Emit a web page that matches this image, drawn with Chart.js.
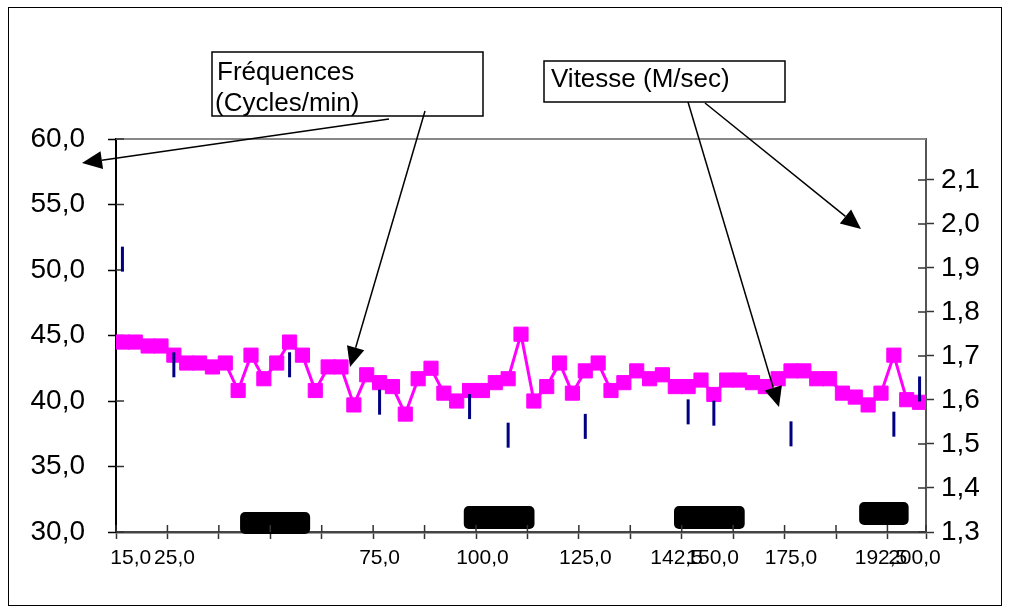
<!DOCTYPE html>
<html>
<head>
<meta charset="utf-8">
<script src="https://cdn.jsdelivr.net/npm/chart.js@4"></script>
<style>
  html, body { margin: 0; padding: 0; background: #fff; }
  #wrap { width: 1009px; height: 613px; position: relative; }
</style>
</head>
<body>
<div id="wrap"><canvas id="chart"></canvas></div>
<script>
// === Données ===
// fréquences (cycles/min), une valeur par catégorie
const freq = [44.5, 44.5, 44.2, 44.2, 43.5, 42.9, 42.9, 42.6, 42.9, 40.8,
  43.5, 41.7, 42.9, 44.5, 43.5, 40.8, 42.6, 42.6, 39.7, 42.0,
  41.4, 41.1, 39.0, 41.7, 42.5, 40.6, 40.0, 40.8, 40.8, 41.4,
  41.7, 45.1, 40.0, 41.1, 42.9, 40.6, 42.3, 42.9, 40.8, 41.4,
  42.3, 41.7, 42.0, 41.1, 41.1, 41.6, 40.5, 41.6, 41.6, 41.4,
  41.1, 41.7, 42.3, 42.3, 41.7, 41.7, 40.6, 40.3, 39.7, 40.6,
  43.5, 40.1, 39.9];

// vitesse (m/sec), seulement sur certaines catégories
const speedCat = [0, 4, 13, 20, 27, 30, 36, 44, 46, 52, 60, 62];
const speed = [1.92, 1.68, 1.68, 1.595, 1.585, 1.52, 1.54, 1.573, 1.57, 1.523, 1.545, 1.625];

// blocs noirs (périodes), en catégories / cycles/min
const blockFrom = [9.15, 26.55, 42.9, 57.3];
const blockTo = [14.6, 32.05, 48.4, 61.15];
const blockLow = [29.85, 30.23, 30.23, 30.53];
const blockHigh = [31.53, 31.98, 31.98, 32.29];

// axes
const xMarks = [-0.5, 3.5, 7.5, 11.5, 15.5, 19.5, 23.5, 27.5, 31.5, 35.5, 39.5, 43.5, 47.5, 51.5, 55.5, 59.5, 62.5];
const xLabelPos = [0.65, 4.05, 20, 28, 36, 43.1, 45.9, 52, 59.0, 61.6];
const xLabelText = ['15,0', '25,0', '75,0', '100,0', '125,0', '142,5', '150,0', '175,0', '192,5', '200,0'];
const leftTicks = [30, 35, 40, 45, 50, 55, 60];
const rightTicks = [1.3, 1.4, 1.5, 1.6, 1.7, 1.8, 1.9, 2.0, 2.1];

const FONT = "'Liberation Sans', Arial, sans-serif";
const NARROW = "'Liberation Sans Narrow', 'Arial Narrow', 'Liberation Sans', sans-serif";
const fmt = v => v.toFixed(1).replace('.', ',');
const labelMap = new Map(xLabelPos.map((p, i) => [p, xLabelText[i]]));
const xTicks = xMarks.concat(xLabelPos).sort((a, b) => a - b);

// === blocs noirs ===
const blocks = {
  id: 'blocks',
  beforeDatasetsDraw(chart) {
    const { ctx, scales: { x, yL } } = chart;
    ctx.save();
    ctx.fillStyle = '#000';
    blockFrom.forEach((f, k) => {
      const x0 = x.getPixelForValue(f), x1 = x.getPixelForValue(blockTo[k]);
      const y0 = yL.getPixelForValue(blockHigh[k]), y1 = yL.getPixelForValue(blockLow[k]);
      ctx.beginPath();
      ctx.roundRect(x0, y0, x1 - x0, y1 - y0, 5);
      ctx.fill();
    });
    ctx.restore();
  }
};

// === graduations croisées + cadre du haut ===
const innerTicks = {
  id: 'innerTicks',
  beforeDatasetsDraw(chart) {
    const { ctx, chartArea: a, scales } = chart;
    ctx.save();
    ctx.strokeStyle = '#888';
    ctx.lineWidth = 2;
    ctx.beginPath();
    ctx.moveTo(a.left, a.top);
    ctx.lineTo(a.right, a.top);
    ctx.stroke();

    ctx.lineWidth = 1.5;
    ctx.strokeStyle = '#333';
    ctx.beginPath();
    xMarks.forEach(v => {
      const px = scales.x.getPixelForValue(v);
      ctx.moveTo(px, a.bottom);
      ctx.lineTo(px, a.bottom - 7);
    });
    leftTicks.forEach(v => {
      const py = scales.yL.getPixelForValue(v);
      ctx.moveTo(a.left, py);
      ctx.lineTo(a.left + 8, py);
    });
    rightTicks.forEach(v => {
      const py = scales.yR.getPixelForValue(v);
      ctx.moveTo(a.right, py);
      ctx.lineTo(a.right - 8, py);
    });
    ctx.stroke();
    ctx.restore();
  }
};

// === légendes en boîtes + flèches ===
function arrow(ctx, x1, y1, x2, y2) {
  const ang = Math.atan2(y2 - y1, x2 - x1);
  const len = 20, half = 9;
  const bx = x2 - len * Math.cos(ang), by = y2 - len * Math.sin(ang);
  ctx.beginPath();
  ctx.moveTo(x1, y1);
  ctx.lineTo(bx, by);
  ctx.stroke();
  ctx.beginPath();
  ctx.moveTo(x2, y2);
  ctx.lineTo(bx + half * Math.sin(ang), by - half * Math.cos(ang));
  ctx.lineTo(bx - half * Math.sin(ang), by + half * Math.cos(ang));
  ctx.closePath();
  ctx.fill();
}

const notes = {
  id: 'notes',
  afterDraw(chart) {
    const ctx = chart.ctx;
    ctx.save();
    ctx.strokeStyle = '#000';
    ctx.fillStyle = '#000';
    ctx.lineWidth = 1;
    ctx.strokeRect(8.5, 7.5, 993, 598);

    ctx.lineWidth = 1.5;
    ctx.fillStyle = '#fff';
    ctx.fillRect(212, 52, 271, 64);
    ctx.strokeRect(212, 52, 271, 64);
    ctx.fillRect(544, 61, 241, 41);
    ctx.strokeRect(544, 61, 241, 41);

    ctx.fillStyle = '#000';
    ctx.font = '26px ' + FONT;
    ctx.textBaseline = 'alphabetic';
    ctx.fillText('Fréquences', 217, 80);
    ctx.fillText('(Cycles/min)', 215, 111);
    ctx.fillText('Vitesse (M/sec)', 551, 87);

    arrow(ctx, 389, 119, 82, 163);
    arrow(ctx, 425, 111, 350, 367);
    arrow(ctx, 688, 102, 779, 407);
    arrow(ctx, 705, 103, 861, 229);
    ctx.restore();
  }
};

new Chart(document.getElementById('chart'), {
  type: 'line',
  data: {
    datasets: [{
      label: 'Vitesse (M/sec)',
      data: speedCat.map((x, k) => ({ x, y: speed[k] })),
      yAxisID: 'yR',
      showLine: false,
      pointStyle: 'line',
      pointRotation: 90,
      pointRadius: 12.5,
      pointBorderWidth: 3,
      pointBorderColor: '#000080',
      borderColor: '#000080',
      order: 0
    }, {
      label: 'Fréquences (Cycles/min)',
      data: freq.map((y, i) => ({ x: i, y })),
      yAxisID: 'yL',
      borderColor: '#ff00ff',
      backgroundColor: '#ff00ff',
      borderWidth: 3,
      tension: 0,
      pointStyle: 'rect',
      pointRadius: 10,
      pointBorderWidth: 1,
      pointBackgroundColor: '#ff00ff',
      pointBorderColor: '#ff00ff',
      order: 1
    }]
  },
  options: {
    responsive: true,
    maintainAspectRatio: false,
    animation: false,
    layout: { padding: { top: 139, left: 0, right: 0, bottom: 0 } },
    plugins: { legend: { display: false }, tooltip: { enabled: false } },
    scales: {
      x: {
        type: 'linear',
        position: 'bottom',
        min: -0.5,
        max: 62.5,
        offset: false,
        afterBuildTicks: s => { s.ticks = xTicks.map(v => ({ value: v })); },
        afterFit: s => { s.height = 81; },
        grid: {
          drawOnChartArea: false,
          offset: false,
          tickLength: 7,
          tickWidth: 1.5,
          tickColor: c => (c.tick && xMarks.includes(c.tick.value)) ? '#333' : 'rgba(0,0,0,0)'
        },
        border: { color: '#444', width: 2.5 },
        ticks: {
          autoSkip: false,
          maxRotation: 0,
          minRotation: 0,
          padding: 7,
          color: '#000',
          font: { family: NARROW, size: 21 },
          callback: v => labelMap.get(v) || ''
        }
      },
      yL: {
        type: 'linear',
        position: 'left',
        min: 30,
        max: 60,
        afterBuildTicks: s => { s.ticks = leftTicks.map(v => ({ value: v })); },
        afterFit: s => { s.width = 116; },
        grid: { drawOnChartArea: false, tickLength: 8, tickWidth: 1.5, tickColor: '#000' },
        border: { color: '#000', width: 2 },
        ticks: { padding: 23, color: '#000', font: { family: FONT, size: 28 }, callback: v => fmt(v) }
      },
      yR: {
        type: 'linear',
        position: 'right',
        min: 1.3,
        max: 2.193,
        afterBuildTicks: s => { s.ticks = rightTicks.map(v => ({ value: v })); },
        afterFit: s => { s.width = 83; },
        grid: { drawOnChartArea: false, tickLength: 8, tickWidth: 1.5, tickColor: '#333' },
        border: { color: '#555', width: 2 },
        ticks: { padding: 7, color: '#000', font: { family: FONT, size: 28 }, callback: v => fmt(v) }
      }
    }
  },
  plugins: [blocks, innerTicks, notes]
});
</script>
</body>
</html>
